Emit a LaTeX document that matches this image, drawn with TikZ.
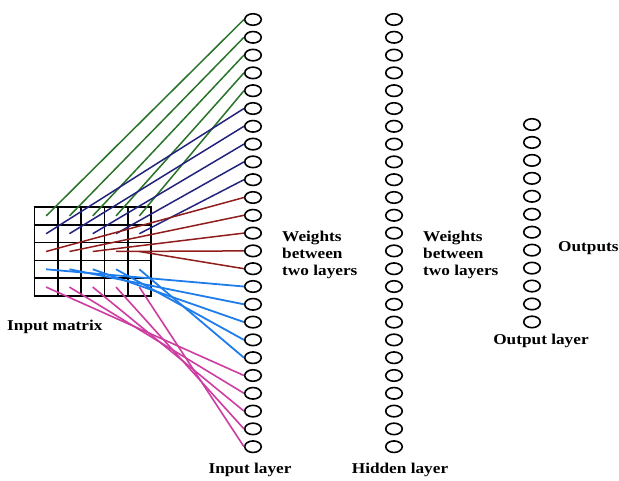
\documentclass[tikz,border=0pt]{standalone}
\usepackage{fontspec}
\setmainfont{Liberation Serif}[FakeStretch=1.15]
\usetikzlibrary{shapes.geometric}
\definecolor{cgreen}{RGB}{40,115,40}
\definecolor{cnavy}{RGB}{35,35,125}
\definecolor{cred}{RGB}{145,28,28}
\definecolor{cblue}{RGB}{30,125,235}
\definecolor{cmag}{RGB}{205,60,160}
\begin{document}
\begin{tikzpicture}[x=1pt,y=-1pt,
  neuron/.style={draw, ellipse, line width=1.6pt, minimum width=16.5pt, minimum height=11.5pt, inner sep=0pt},
  gridline/.style={line width=1.6pt, black},
  wire/.style={line width=1.5pt},
  lbl/.style={font=\bfseries\fontsize{15}{16.7}\selectfont, inner sep=0pt}]
\useasboundingbox (0,0) rectangle (619,481);
% layers
\foreach \i in {1,...,25} {
  \node[neuron] (I\i) at (253,{19.5+(\i-1)*17.8}) {};
  \node[neuron] (H\i) at (394,{19.5+(\i-1)*17.8}) {};
}
\foreach \i in {1,...,12} {
  \node[neuron] (O\i) at (532,{124.5+(\i-1)*17.95}) {};
}
% input matrix grid
\foreach \k in {0,...,5} {
  \draw[gridline] ({34.5+\k*23.3},207) -- ({34.5+\k*23.3},296);
  \draw[gridline] (33.7,{207+\k*17.8}) -- (151.8,{207+\k*17.8});
}
\foreach \r in {1,...,5} {
  \foreach \c in {1,...,5} {
    \coordinate (c\r\c) at ({34.5+(\c-0.5)*23.3},{207+(\r-0.5)*17.8});
  }
}
% connections
\foreach \r/\col/\lw in {1/cgreen/1.5pt,2/cnavy/1.5pt,3/cred/1.5pt,4/cblue/1.8pt,5/cmag/1.6pt} {
  \foreach \c in {1,...,5} {
    \pgfmathtruncatemacro\n{(\r-1)*5+\c}
    \draw[wire,\col,line width=\lw] (c\r\c) -- (I\n.west);
  }
}
% labels
\node[lbl, anchor=west] (im) at (7,327) {Input matrix};
\node[lbl] (il) at (250,470) {Input layer};
\node[lbl] (hl) at (400,470) {Hidden layer};
\node[lbl] (ol) at (541,341) {Output layer};
\node[lbl, anchor=west, align=left] (w1) at (282,255) {Weights\\between\\two layers};
\node[lbl, anchor=west, align=left] (w2) at (423,255) {Weights\\between\\two layers};
\node[lbl, anchor=west] (out) at (558,248) {Outputs};
\end{tikzpicture}
\end{document}
